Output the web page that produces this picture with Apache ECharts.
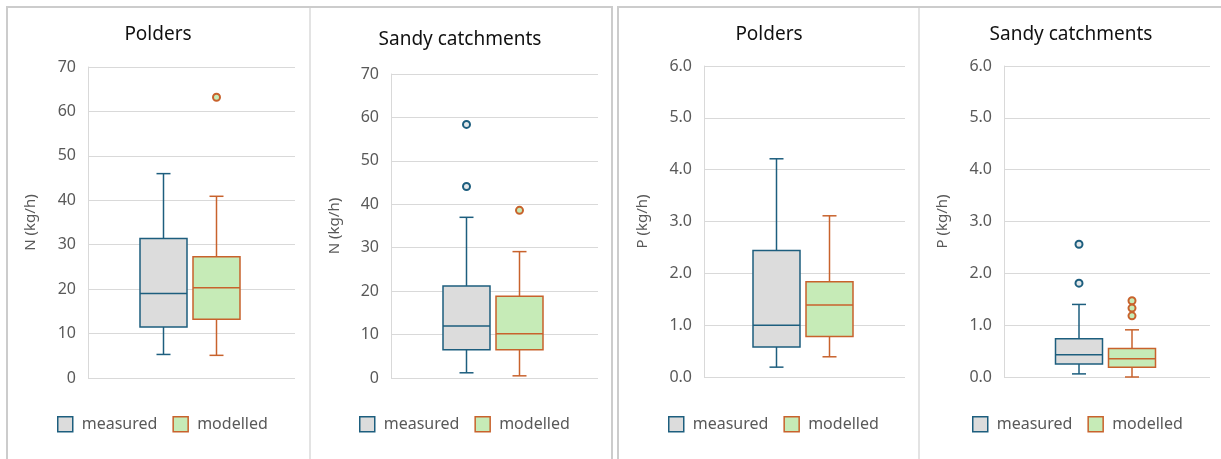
<!DOCTYPE html>
<html>
<head>
<meta charset="utf-8">
<title>N and P loads: measured vs modelled</title>
<script src="https://cdn.jsdelivr.net/npm/echarts@6/dist/echarts.min.js"></script>
<style>
  html, body { margin: 0; padding: 0; background: #ffffff; }
  #chart { width: 1221px; height: 459px; }
</style>
</head>
<body>
<div id="chart"></div>
<script>
// ---- data -------------------------------------------------------------
const panelTitles = ['Polders', 'Sandy catchments', 'Polders', 'Sandy catchments'];
const yAxisNames = ['N (kg/h)', 'N (kg/h)', 'P (kg/h)', 'P (kg/h)'];
const seriesNames = ['measured', 'modelled'];

const nTickLabels = ['0', '10', '20', '30', '40', '50', '60', '70'];
const pTickLabels = ['0.0', '1.0', '2.0', '3.0', '4.0', '5.0', '6.0'];

// five-number summaries: [min, Q1, median, Q3, max]
const nPoldersMeasured = [5.3, 11.5, 19.0, 31.4, 46.0];
const nPoldersModelled = [5.1, 13.2, 20.3, 27.3, 40.9];
const nSandyMeasured = [1.2, 6.5, 12.0, 21.2, 37.0];
const nSandyModelled = [0.5, 6.5, 10.2, 18.8, 29.1];
const pPoldersMeasured = [0.19, 0.58, 1.00, 2.44, 4.21];
const pPoldersModelled = [0.39, 0.78, 1.39, 1.84, 3.11];
const pSandyMeasured = [0.06, 0.25, 0.43, 0.74, 1.40];
const pSandyModelled = [0.00, 0.19, 0.35, 0.55, 0.91];

// points beyond the whiskers
const nPoldersMeasuredOut = [];
const nPoldersModelledOut = [63.2];
const nSandyMeasuredOut = [44.1, 58.4];
const nSandyModelledOut = [38.6];
const pPoldersMeasuredOut = [];
const pPoldersModelledOut = [];
const pSandyMeasuredOut = [1.81, 2.56];
const pSandyModelledOut = [1.18, 1.33, 1.47];

// ---- styling / layout -------------------------------------------------
const FONT = '"Noto Sans", sans-serif';
const LABEL_COLOR = '#595959';
const GRID_COLOR = '#d9d9d9';
const STYLES = {
  measured: { stroke: '#1d5e7e', fill: '#dcdcdc', dot: '#e4e8ea' },
  modelled: { stroke: '#c8622c', fill: '#c6ebb7', dot: '#c6ebb7' }
};
const BOX_W = 47, BOX_GAP = 6, CAP_W = 14, LINE_W = 1.5, GROUP_SHIFT = -1.5;

const panels = [
  { grid: { left: 88, top: 67, width: 207, height: 311 }, ticks: nTickLabels, nameGap: 50,
    title: { left: 158, top: 25 }, legendLeft: 57,
    boxes: [nPoldersMeasured, nPoldersModelled], outs: [nPoldersMeasuredOut, nPoldersModelledOut] },
  { grid: { left: 391, top: 74, width: 207, height: 304 }, ticks: nTickLabels, nameGap: 49,
    title: { left: 460, top: 30 }, legendLeft: 359,
    boxes: [nSandyMeasured, nSandyModelled], outs: [nSandyMeasuredOut, nSandyModelledOut] },
  { grid: { left: 704, top: 66, width: 201, height: 311 }, ticks: pTickLabels, nameGap: 54,
    title: { left: 769, top: 25 }, legendLeft: 668,
    boxes: [pPoldersMeasured, pPoldersModelled], outs: [pPoldersMeasuredOut, pPoldersModelledOut] },
  { grid: { left: 1004, top: 66, width: 206, height: 311 }, ticks: pTickLabels, nameGap: 54,
    title: { left: 1071, top: 25 }, legendLeft: 972,
    boxes: [pSandyMeasured, pSandyModelled], outs: [pSandyMeasuredOut, pSandyModelledOut] }
];

// Draws one box-and-whisker (short whisker caps) beside the category centre.
function boxRenderer(side, st) {
  return function (params, api) {
    const cat = api.value(0);
    const cx = api.coord([cat, 0])[0] + side * (BOX_W + BOX_GAP) / 2 + GROUP_SHIFT;
    const [yMin, yQ1, yMed, yQ3, yMax] = [1, 2, 3, 4, 5].map(i => api.coord([cat, api.value(i)])[1]);
    const half = BOX_W / 2, cap = CAP_W / 2;
    const line = (x1, y1, x2, y2) => ({
      type: 'line', shape: { x1, y1, x2, y2 }, style: { stroke: st.stroke, lineWidth: LINE_W }
    });
    return {
      type: 'group',
      children: [
        line(cx, yMax, cx, yQ3),
        line(cx, yQ1, cx, yMin),
        line(cx - cap, yMax, cx + cap, yMax),
        line(cx - cap, yMin, cx + cap, yMin),
        { type: 'rect', shape: { x: cx - half, y: yQ3, width: BOX_W, height: yQ1 - yQ3 },
          style: { fill: st.fill, stroke: st.stroke, lineWidth: LINE_W } },
        line(cx - half, yMed, cx + half, yMed)
      ]
    };
  };
}

const grids = [], xAxes = [], yAxes = [], series = [], titles = [], legends = [];

panels.forEach((p, i) => {
  const ticks = p.ticks.map(Number);
  const decimals = (p.ticks[0].split('.')[1] || '').length;
  grids.push(p.grid);
  xAxes.push({
    type: 'category', gridIndex: i, data: [''],
    axisLine: { show: false }, axisTick: { show: false }, axisLabel: { show: false }
  });
  yAxes.push({
    type: 'value', gridIndex: i,
    min: ticks[0], max: ticks[ticks.length - 1], interval: ticks[1] - ticks[0],
    name: yAxisNames[i], nameLocation: 'middle', nameGap: p.nameGap,
    nameTextStyle: { color: LABEL_COLOR, fontSize: 15, fontFamily: FONT },
    axisLine: { show: true, lineStyle: { color: GRID_COLOR, width: 1 } },
    axisTick: { show: false },
    axisLabel: { color: LABEL_COLOR, fontSize: 16, fontFamily: FONT, margin: 12,
      formatter: v => v.toFixed(decimals) },
    splitLine: { lineStyle: { color: GRID_COLOR, width: 1 } }
  });
  titles.push({
    text: panelTitles[i], left: p.title.left, top: p.title.top, textAlign: 'center', padding: 0,
    textStyle: { color: '#111111', fontSize: 19, fontWeight: 'normal', fontFamily: FONT }
  });
  legends.push({
    left: p.legendLeft, top: 416, padding: 0, itemWidth: 15, itemHeight: 15, itemGap: 15,
    selectedMode: false,
    textStyle: { color: LABEL_COLOR, fontSize: 16, fontFamily: FONT, padding: [0, 0, 0, 4] },
    data: seriesNames.map(n => ({
      name: n, icon: 'rect',
      itemStyle: { color: STYLES[n].fill, borderColor: STYLES[n].stroke, borderWidth: 1.5 }
    }))
  });
  seriesNames.forEach((name, k) => {
    const side = k === 0 ? -1 : 1;
    const st = STYLES[name];
    series.push({
      type: 'custom', name, xAxisIndex: i, yAxisIndex: i,
      renderItem: boxRenderer(side, st),
      encode: { x: 0, y: [1, 2, 3, 4, 5] },
      itemStyle: { color: st.fill, borderColor: st.stroke },
      data: [[0, ...p.boxes[k]]],
      silent: true
    });
    series.push({
      type: 'scatter', name, xAxisIndex: i, yAxisIndex: i,
      symbol: 'circle', symbolSize: 7,
      symbolOffset: [side * (BOX_W + BOX_GAP) / 2 + GROUP_SHIFT, 0],
      itemStyle: { color: st.dot, borderColor: st.stroke, borderWidth: 2, opacity: 1 },
      data: p.outs[k].map(v => [0, v]),
      silent: true
    });
  });
});

// panel frames and dividers
const graphics = [
  { type: 'rect', shape: { x: 7, y: 7, width: 605, height: 480 },
    style: { fill: 'none', stroke: '#cccccc', lineWidth: 2 }, silent: true },
  { type: 'rect', shape: { x: 618, y: 7, width: 640, height: 480 },
    style: { fill: 'none', stroke: '#cccccc', lineWidth: 2 }, silent: true },
  { type: 'line', shape: { x1: 310, y1: 8, x2: 310, y2: 459 },
    style: { stroke: '#e3e3e3', lineWidth: 2 }, silent: true },
  { type: 'line', shape: { x1: 919, y1: 8, x2: 919, y2: 459 },
    style: { stroke: '#e3e3e3', lineWidth: 2 }, silent: true }
];

const chart = echarts.init(document.getElementById('chart'), null, { renderer: 'canvas' });
chart.setOption({
  animation: false,
  backgroundColor: '#ffffff',
  title: titles,
  legend: legends,
  grid: grids,
  xAxis: xAxes,
  yAxis: yAxes,
  series: series,
  graphic: graphics
});
</script>
</body>
</html>
